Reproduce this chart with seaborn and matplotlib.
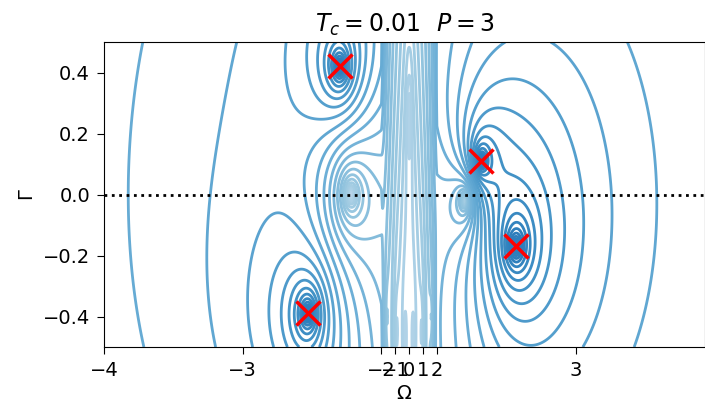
import numpy as np
import matplotlib
matplotlib.use("Agg")
import matplotlib.pyplot as plt
import seaborn as sns
from matplotlib.colors import Normalize, ListedColormap

sns.set_style("ticks")
plt.rcParams["font.family"] = ["DejaVu Sans"]
plt.rcParams.update({
    "text.color": "black", "axes.labelcolor": "black", "axes.edgecolor": "black",
    "xtick.color": "black", "ytick.color": "black",
})

# poles (marked with red crosses) and zeros of the response, in (Omega, Gamma)
pole_omega = [-2.30, 2.32, 2.57, -2.53]
pole_gamma = [0.42, 0.11, -0.17, -0.39]
pole_weight = [1.0, 1.0, 1.0, 1.0]

zero_omega = [-2.22, 2.20, 0.0, -0.9, 0.9, -1.6, 1.6, -0.3, 0.3]
zero_gamma = [0.0, -0.02, 0.25, -0.45, -0.45, -0.4, -0.4, -0.48, -0.48]
zero_weight = [1.0, 1.0, 0.4, 0.25, 0.25, 0.2, 0.2, 0.25, 0.25]

xtick_vals = [-4, -3, -2, -1, 0, 1, 2, 3]
ytick_vals = [-0.4, -0.2, 0.0, 0.2, 0.4]


# band |Omega|<2 squeezed by a factor 10
def fwd(x):
    x = np.asarray(x, dtype=float)
    return np.where(np.abs(x) <= 2, 0.1 * x, np.sign(x) * (np.abs(x) - 1.8))


def inv(t):
    t = np.asarray(t, dtype=float)
    return np.where(np.abs(t) <= 0.2, 10 * t, np.sign(t) * (np.abs(t) + 1.8))


t = np.linspace(fwd(-4.0), fwd(3.93), 1400)
omega = inv(t)
gamma = np.linspace(-0.5, 0.5, 600)
W, G = np.meshgrid(omega, gamma)
z = W + 1j * G

Z = np.zeros_like(W)
for w, g, a in zip(pole_omega, pole_gamma, pole_weight):
    Z -= a * np.log(np.abs(z - (w + 1j * g)) + 1e-9)
for w, g, b in zip(zero_omega, zero_gamma, zero_weight):
    Z += b * np.log(np.abs(z - (w + 1j * g)) + 1e-9)

levels = np.arange(-6, 6, 0.27)
blues = sns.color_palette("Blues", as_cmap=True)
cmap = ListedColormap(blues(np.linspace(0.1, 0.7, 256)))

fig = plt.figure(figsize=(7.05, 4.04), dpi=100)
ax = fig.add_axes([0.1475, 0.141, 0.852, 0.755])
ax.set_xscale("function", functions=(fwd, inv))
ax.contour(W, G, Z, levels=levels, cmap=cmap, norm=Normalize(-6.0, 3.0), linewidths=2.0)
ax.axhline(0, color="black", linestyle=":", linewidth=2)
ax.plot(pole_omega, pole_gamma, "x", color="red", markersize=17, markeredgewidth=2.5)

ax.set_xlim(-4, 3.93)
ax.set_ylim(-0.5, 0.5)
ax.set_xticks(xtick_vals)
ax.set_xticklabels([f"{v}".replace("-", "\u2212") for v in xtick_vals])
ax.set_yticks(ytick_vals)
ax.tick_params(labelsize=14, length=5, pad=5)
ax.set_xlabel(r"$\Omega$", fontsize=14, labelpad=3)
ax.set_ylabel(r"$\Gamma$", fontsize=14)
ax.set_title(r"$T_c = 0.01\ \ P = 3$", fontsize=17, pad=7)

fig.savefig("out.png", dpi=100)
